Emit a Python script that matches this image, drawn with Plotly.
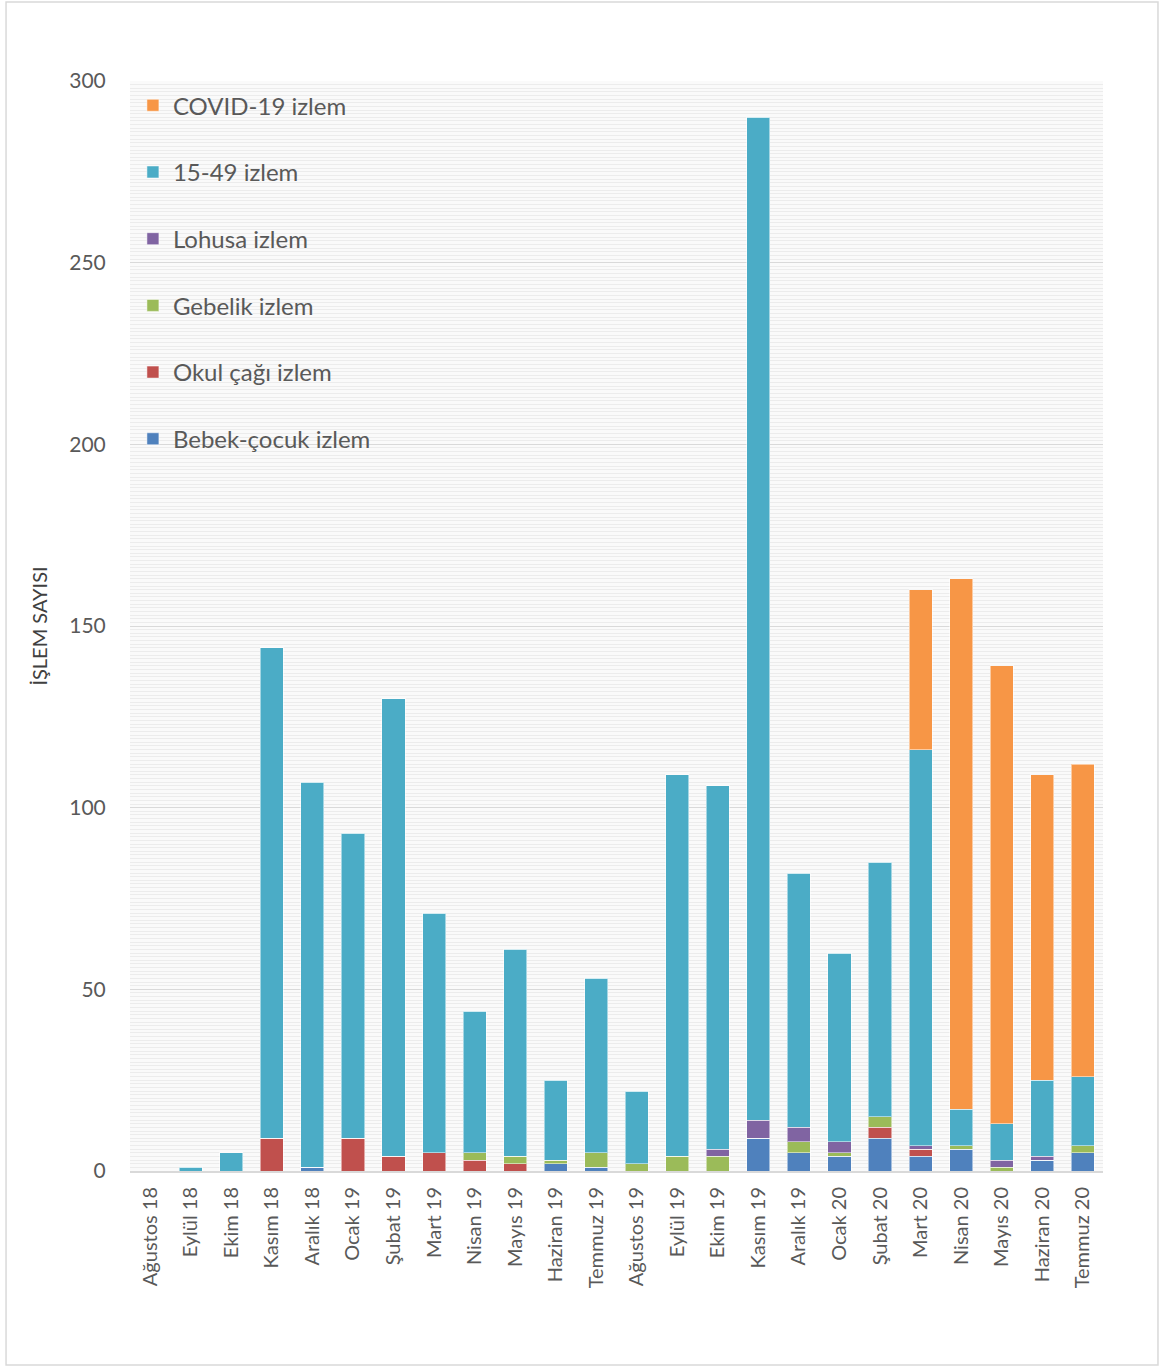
import plotly.graph_objects as go

months = ["Ağustos 18", "Eylül 18", "Ekim 18", "Kasım 18", "Aralık 18", "Ocak 19",
          "Şubat 19", "Mart 19", "Nisan 19", "Mayıs 19", "Haziran 19", "Temmuz 19",
          "Ağustos 19", "Eylül 19", "Ekim 19", "Kasım 19", "Aralık 19", "Ocak 20",
          "Şubat 20", "Mart 20", "Nisan 20", "Mayıs 20", "Haziran 20", "Temmuz 20"]

bebek_cocuk = [0, 0, 0, 0, 1, 0, 0, 0, 0, 0, 2, 1, 0, 0, 0, 9, 5, 4, 9, 4, 6, 0, 3, 5]
okul_cagi = [0, 0, 0, 9, 0, 9, 4, 5, 3, 2, 0, 0, 0, 0, 0, 0, 0, 0, 3, 2, 0, 0, 0, 0]
gebelik = [0, 0, 0, 0, 0, 0, 0, 0, 2, 2, 1, 4, 2, 4, 4, 0, 3, 1, 3, 0, 1, 1, 0, 2]
lohusa = [0, 0, 0, 0, 0, 0, 0, 0, 0, 0, 0, 0, 0, 0, 2, 5, 4, 3, 0, 1, 0, 2, 1, 0]
izlem_15_49 = [0, 1, 5, 135, 106, 84, 126, 66, 39, 57, 22, 48, 20, 105, 100, 276, 70, 52,
               70, 109, 10, 10, 21, 19]
covid = [0, 0, 0, 0, 0, 0, 0, 0, 0, 0, 0, 0, 0, 0, 0, 0, 0, 0, 0, 44, 146, 126, 84, 86]

series = [
    ("Bebek-çocuk izlem", bebek_cocuk, "#4F81BD"),
    ("Okul çağı izlem", okul_cagi, "#C0504D"),
    ("Gebelik izlem", gebelik, "#9BBB59"),
    ("Lohusa izlem", lohusa, "#8064A2"),
    ("15-49 izlem", izlem_15_49, "#4BACC6"),
    ("COVID-19 izlem", covid, "#F79646"),
]

FONT = "Lato"
fig = go.Figure()
n = len(series)
for i, (name, vals, col) in enumerate(series):
    fig.add_trace(go.Bar(
        x=months, y=vals, name=name, legendgroup=f"g{i}", legendrank=n - i,
        marker=dict(color=col, line=dict(color="rgba(255,255,255,0.5)", width=1)),
    ))

fig.update_layout(
    width=1162, height=1367,
    barmode="stack", bargap=0.43,
    paper_bgcolor="white", plot_bgcolor="#fafafa",
    margin=dict(l=130, r=59, t=81, b=196),
    font=dict(family=FONT, color="#595959"),
    legend=dict(
        x=0.003, y=0.998, xanchor="left", yanchor="top",
        traceorder="grouped", tracegroupgap=32.5,
        bgcolor="rgba(0,0,0,0)",
        font=dict(family=FONT, size=24, color="#595959"),
        itemwidth=30,
    ),
    showlegend=True,
)
fig.update_yaxes(
    range=[0, 300], dtick=50,
    showgrid=True, gridcolor="#d9d9d9", gridwidth=1,
    minor=dict(dtick=1, showgrid=True, gridcolor="#ececec", gridwidth=1),
    zeroline=False,
    ticks="outside", ticklen=19, tickcolor="rgba(0,0,0,0)",
    tickfont=dict(family=FONT, size=21, color="#595959"),
    title=dict(text="İŞLEM SAYISI", font=dict(family=FONT, size=20, color="#404040"), standoff=16),
)
fig.update_xaxes(
    tickangle=-90,
    showline=True, linecolor="#d9d9d9", linewidth=2,
    ticks="outside", ticklen=6, tickcolor="rgba(0,0,0,0)",
    tickfont=dict(family=FONT, size=20, color="#595959"),
)
fig.add_shape(type="rect", xref="paper", yref="paper",
              x0=-0.1274, x1=1.0565, y0=-0.178, y1=1.0725,
              line=dict(color="#d9d9d9", width=1.5), fillcolor="rgba(0,0,0,0)", layer="below")

fig.write_html("out.html")
